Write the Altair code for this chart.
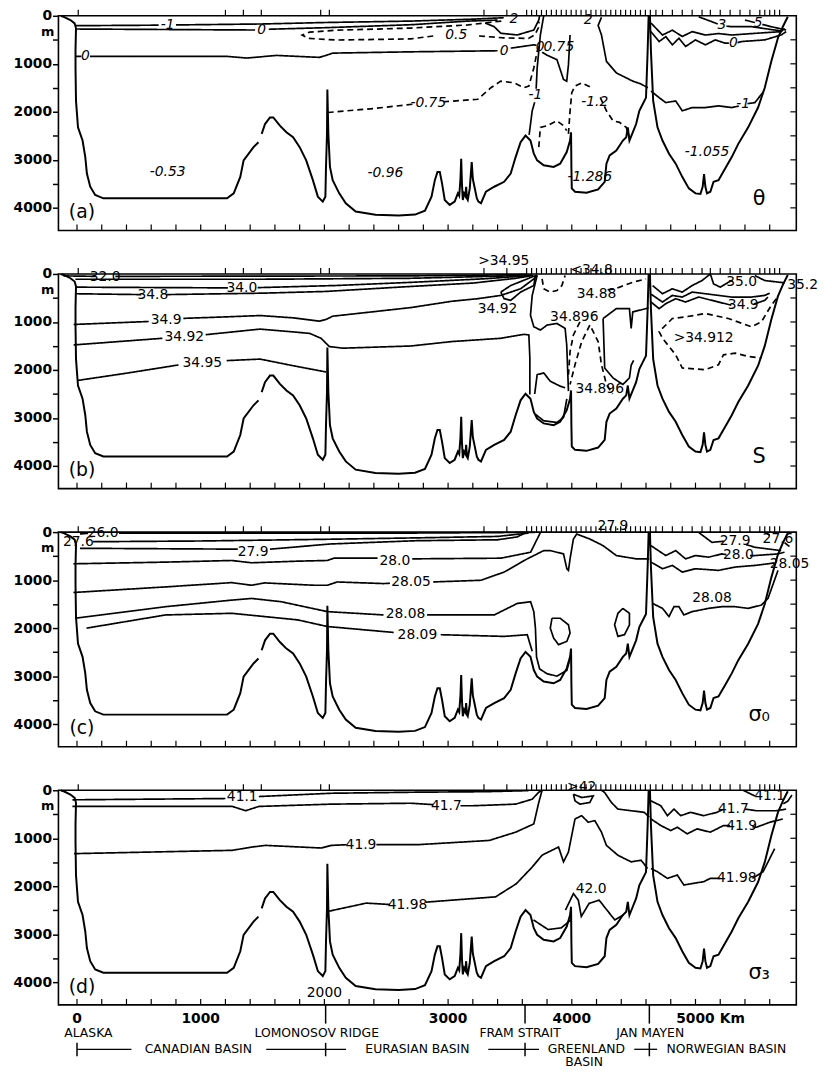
import altair as alt
import pandas as pd

X_DOMAIN = [-150, 5815]
Y_DOMAIN = [0, 4470]
W, H = 746, 217
FONT = "DejaVu Sans"

# ---------------- sea floor (km, m) ----------------
SEA_1 = [(-130, 5), (-107, 21), (-53, 89), (-19, 158), (-8, 261), (-12, 700), (-12, 1086), (-8, 1773),
         (8, 2323), (45, 2598), (67, 2942), (80, 3285), (107, 3560), (147, 3732), (213, 3801), (1213, 3801),
         (1267, 3698), (1320, 3354), (1347, 3010), (1427, 2735), (1467, 2632)]
SEA_2 = [(1493, 2460), (1520, 2254), (1560, 2117), (1587, 2117), (1640, 2289), (1693, 2426), (1747, 2529),
         (1800, 2735), (1853, 3010), (1907, 3423), (1947, 3766), (1987, 3869), (2008, 3766), (2013, 3148),
         (2021, 2460), (2024, 1533), (2032, 2460), (2045, 3148), (2067, 3423), (2120, 3698), (2173, 3904),
         (2253, 4076), (2413, 4144), (2600, 4160), (2733, 4140), (2813, 4060), (2866, 3766), (2893, 3423),
         (2914, 3251), (2933, 3251), (2951, 3491), (2973, 3835), (3013, 3938), (3053, 3869), (3079, 3698),
         (3090, 3750), (3100, 3400), (3106, 2976), (3112, 3500), (3119, 3835), (3130, 3700), (3140, 3750),
         (3146, 3560), (3152, 3800), (3159, 3835), (3175, 3600), (3191, 3045), (3200, 3400), (3213, 3560),
         (3232, 3800), (3245, 3869), (3266, 3904), (3306, 3663), (3373, 3560), (3453, 3457), (3506, 3285),
         (3546, 2942), (3586, 2632), (3626, 2495), (3666, 2598), (3693, 2873), (3720, 3010), (3773, 3113),
         (3853, 3148), (3906, 3079), (3959, 2838), (3986, 2598), (3994, 2426), (3997, 3182), (4000, 3594),
         (4026, 3663), (4119, 3684), (4213, 3615), (4266, 3457), (4280, 3079), (4306, 2907), (4360, 2804),
         (4413, 2598), (4440, 2529), (4453, 2323), (4466, 2598), (4493, 2426), (4520, 2254), (4546, 1979),
         (4573, 1842), (4600, 1704), (4613, 742), (4621, 21), (4632, 21), (4640, 742), (4658, 1773),
         (4693, 2323), (4733, 2598), (4786, 2873), (4840, 3079), (4893, 3354), (4946, 3594), (5000, 3698),
         (5040, 3711), (5058, 3560), (5069, 3299), (5080, 3560), (5093, 3698), (5120, 3663), (5146, 3457),
         (5186, 3423), (5240, 3182), (5293, 2942), (5346, 2667), (5426, 2323), (5506, 1911), (5560, 1498),
         (5613, 948), (5666, 467), (5706, 227), (5746, 21)]

STATIONS = [10, 1200, 1345, 1490, 1970, 2040, 3290, 3475, 3635, 3675, 3715, 3755, 3795, 3835, 3875, 3915,
            3955, 3995, 4035, 4075, 4115, 4155, 4195, 4235, 4275, 4315, 4355, 4395, 4435, 4475, 4515, 4555,
            4595, 4635, 4680, 4733, 4813, 4893, 4973, 5053, 5120, 5200, 5280, 5360, 5440, 5520, 5560, 5600,
            5640, 5680]
BOTTOM_TICKS = [0, 200, 400, 600, 800, 1000, 1200, 1400, 1600, 1800, 2000, 2200, 2400, 2600, 2800, 3000,
                3200, 3400, 3600, 3800, 4000, 4200, 4400, 4600, 4800, 5000, 5200, 5400, 5600]
DEPTH_TICKS = [0, 500, 1000, 1500, 2000, 2500, 3000, 3500, 4000]

# ---------------- panel (a) theta ----------------
A_M1A = [(-13, 206), (660, 195)]
A_M1B = [(800, 190), (1500, 170), (2000, 140), (2700, 110), (3200, 70), (3450, 40)]
A_0UA = [(-13, 275), (1440, 296)]
A_0UB = [(1550, 280), (2013, 247), (2707, 185), (3160, 110), (3400, 90)]
A_0A = [(-13, 845), (35, 845)]
A_0B = [(105, 845), (1213, 845), (1373, 880), (1613, 825), (1960, 866), (2013, 825), (2067, 777),
        (2700, 750), (3400, 728)]
A_0C = [(3506, 674), (3693, 605), (3715, 615)]
A_0D = [(3760, 760), (3800, 820), (3880, 914), (3933, 1326), (3959, 1361), (3973, 1017), (3986, 400)]
A_2 = [(3300, 150), (3373, 227), (3426, 364), (3560, 399), (3693, 296), (3733, 89), (3740, 0)]
A_M1C = [(3773, 0), (3746, 399), (3720, 1086), (3712, 1520)]
A_M1D = [(3700, 1800), (3680, 1979), (3655, 2480)]
A_M1E = [(4240, 30), (4213, 200), (4240, 400), (4280, 948), (4360, 1189), (4493, 1361), (4560, 1420),
         (4615, 1500)]
A_M1F = [(4640, 1567), (4706, 1704), (4760, 1808), (4840, 1773), (4893, 1979), (4973, 1911), (5080, 1911),
         (5186, 1876), (5293, 1911), (5350, 1880)]
A_M1G = [(5420, 1830), (5480, 1808), (5550, 1580)]
A_0N = [(4640, 330), (4706, 536), (4760, 433), (4813, 605), (4866, 467), (4920, 639), (5000, 502),
        (5080, 605), (5160, 502), (5240, 570), (5270, 570)]
A_0N2 = [(5340, 560), (5373, 536), (5560, 502), (5693, 399), (5733, 330)]
A_1N = [(4640, 150), (4733, 400), (4813, 300), (4893, 430), (4973, 330), (5080, 400), (5186, 370),
        (5293, 400), (5453, 370), (5693, 330), (5720, 260)]
A_3 = [(5026, 21), (5133, 124), (5180, 170)]
A_3B = [(5250, 215), (5293, 227), (5453, 227), (5693, 316)]
A_5 = [(5400, 89), (5480, 140)]
A_5B = [(5540, 180), (5613, 227), (5733, 296)]
A_05A = [(3430, 110), (3160, 190), (2700, 255), (2100, 300), (1880, 340), (1820, 400), (1870, 470),
         (2100, 505), (2700, 480), (2880, 420)]
A_05B = [(3250, 420), (3450, 460), (3650, 470), (3700, 400), (3730, 250), (3735, 120)]
A_M075A = [(2027, 2014), (2400, 1930), (2720, 1840)]
A_M075B = [(2960, 1790), (3240, 1739), (3346, 1498), (3426, 1361), (3533, 1395), (3613, 1498), (3653, 1464),
           (3693, 1086), (3720, 742), (3740, 600)]
A_M12A = [(3973, 2460), (3986, 1979), (4000, 1601), (4026, 1464), (4080, 1395), (4146, 1480)]
A_M12B = [(4230, 1700), (4280, 1979), (4333, 2186), (4386, 2220), (4440, 2323), (4466, 2529)]
A_M12C = [(3733, 2735), (3746, 2323), (3800, 2289), (3880, 2186), (3933, 2289), (3959, 2392)]
A_SOLID = [A_M1A, A_M1B, A_0UA, A_0UB, A_0A, A_0B, A_0C, A_0D, A_2, A_M1C, A_M1D, A_M1E, A_M1F, A_M1G,
           A_0N, A_0N2, A_1N, A_3, A_3B, A_5, A_5B]
A_DASH = [A_05A, A_05B, A_M075A, A_M075B, A_M12A, A_M12B, A_M12C]
A_LABELS = [("-1", 733, 190), ("0", 1493, 305), ("0.5", 3066, 400), ("0", 67, 845), ("0", 3453, 742),
            ("0", 3745, 660), ("0.75", 3895, 660), ("-0.75", 2840, 1808), ("-1", 3706, 1660),
            ("-1.2", 4186, 1800), ("-1", 5386, 1842), ("0", 5306, 570), ("3", 5213, 192), ("5", 5506, 158),
            ("2", 3533, 70), ("2", 4133, 90), ("-0.53", 733, 3251), ("-0.96", 2493, 3285),
            ("-1.055", 5093, 2838), ("-1.286", 4146, 3354)]

# ---------------- panel (b) salinity ----------------
B_320A = [(-110, 40), (150, 50)]
B_320B = [(310, 50), (2700, 40), (3600, 15)]
B_LINE2 = [(-13, 110), (1500, 110), (2700, 90), (3500, 40), (3640, 10)]
B_340A = [(-13, 275), (1220, 290)]
B_340B = [(1460, 285), (2100, 240), (2700, 175), (3300, 100), (3600, 45), (3680, 20)]
B_348A = [(-13, 412), (520, 430)]
B_348B = [(720, 430), (1500, 400), (2013, 364), (2700, 260), (3200, 190), (3550, 90), (3690, 30)]
B_349A = [(-27, 1052), (580, 990)]
B_349B = [(860, 925), (1213, 893), (1480, 866), (1747, 914), (1960, 983), (2013, 948), (2067, 880),
          (2700, 700), (3026, 570), (3240, 515), (3426, 447), (3586, 309), (3693, 103), (3720, 20)]
B_3492A = [(-27, 1478), (690, 1340)]
B_3492B = [(1040, 1265), (1480, 1148), (1880, 1237), (1973, 1340), (2040, 1512), (2147, 1546), (2700, 1500),
           (3026, 1409), (3426, 1340), (3613, 1258), (3653, 1271), (3661, 1753), (3661, 2508)]
B_3495A = [(0, 2220), (413, 2062), (820, 1895)]
B_3495B = [(1210, 1805), (1480, 1773), (1747, 1911), (2013, 2041)]
B_LOOP = [(3426, 378), (3506, 241), (3640, 103), (3706, 34), (3693, 241), (3586, 378), (3506, 550),
          (3453, 515), (3426, 378)]
B_G1 = [(3720, 30), (3680, 447), (3666, 859), (3693, 1100), (3746, 1168), (3800, 1065), (3880, 1031),
        (3946, 1134), (3959, 1478), (3973, 2440)]
B_G2 = [(4253, 928), (4360, 722), (4466, 722), (4480, 1134), (4493, 790), (4600, 722), (4620, 700)]
B_G3 = [(4253, 928), (4266, 1959), (4333, 2165), (4413, 2302), (4466, 2165), (4480, 1900), (4500, 1800)]
B_LOW1 = [(3700, 2500), (3720, 2096), (3773, 2062), (3826, 2234), (3906, 2337), (3946, 2371)]
B_LOW2 = [(3706, 2921), (3773, 3058), (3880, 3093), (3933, 2990), (3960, 2600)]
B_350 = [(4653, 241), (4733, 412), (4813, 309), (4893, 378), (4973, 241), (5053, 137), (5120, 0),
         (5146, 206), (5200, 275), (5266, 172), (5300, 130)]
B_352 = [(5480, 34), (5560, 137), (5720, 185)]
B_MID = [(4640, 420), (4733, 584), (4813, 447), (4893, 481), (4973, 378), (5080, 412), (5186, 447),
         (5293, 481), (5453, 481), (5560, 447), (5600, 400)]
B_349N = [(4640, 584), (4706, 722), (4760, 619), (4840, 515), (4920, 584), (5026, 481), (5133, 550),
          (5240, 619), (5290, 650)]
B_349N2 = [(5470, 630), (5560, 550), (5586, 481)]
B_88 = [(3760, 103), (3773, 309), (3826, 378), (3880, 344), (3920, 241), (3946, 34)]
B_88B = [(4290, 330), (4360, 300), (4493, 172), (4600, 103)]
B_TENT1 = [(4066, 997), (4013, 1271), (3986, 1615), (3973, 2096)]
B_TENT2 = [(4146, 1065), (4080, 1409), (4026, 1890), (3986, 2302)]
B_TENT3 = [(4160, 1134), (4213, 1409), (4240, 1890), (4280, 2302), (4330, 2500)]
B_912 = [(5653, 515), (5613, 653), (5533, 997), (5453, 1100), (5266, 928), (5080, 825), (4920, 893),
         (4813, 928), (4706, 1203), (4733, 1340), (4840, 1684), (4893, 1959), (5080, 1993), (5186, 1890),
         (5226, 1684), (5320, 1649), (5426, 1718), (5533, 1753)]
B_SOLID = [B_320A, B_320B, B_LINE2, B_340A, B_340B, B_348A, B_348B, B_349A, B_349B, B_3492A, B_3492B,
           B_3495A, B_3495B, B_LOOP, B_G1, B_G2, B_G3, B_LOW1, B_LOW2, B_350, B_352, B_MID, B_349N, B_349N2]
B_DASH = [B_88, B_88B, B_TENT1, B_TENT2, B_TENT3, B_912]
B_LABELS = [("32.0", 227, 60), ("34.0", 1333, 296), ("34.8", 613, 433), ("34.9", 720, 962),
            ("34.92", 867, 1306), ("34.95", 1013, 1856), ("34.92", 3400, 722), ("34.88", 4200, 412),
            ("34.896", 4020, 893), ("34.896", 4226, 2405), ("35.0", 5373, 172), ("35.2", 5866, 240),
            ("34.9", 5386, 653), (">34.912", 5066, 1340), (">34.95", 3450, -270), ("<34.8", 4160, -80)]

# ---------------- panel (c) sigma-0 ----------------
C_260A = [(24, 40), (90, 25)]
C_260B = [(340, 20), (2700, 20), (3700, 5)]
C_276 = [(130, 200), (1000, 185), (2000, 150), (2744, 120), (3400, 90), (3650, 20)]
C_279A = [(24, 337), (1300, 355)]
C_279B = [(1560, 355), (2051, 247), (2744, 179), (3400, 160), (3560, 100), (3620, 20)]
C_280A = [(-29, 660), (717, 625), (1251, 591), (1411, 639), (1784, 605), (2024, 591), (2077, 543), (2430, 543)]
C_280B = [(2710, 557), (3427, 543), (3667, 419), (3746, 10)]
C_2805A = [(-29, 1258), (717, 1141), (1251, 1052), (1411, 1107), (1517, 1058), (1917, 1107), (2024, 1107),
           (2104, 1038), (2478, 1072), (2530, 1065)]
C_2805B = [(2880, 1038), (3266, 1003), (3453, 832), (3640, 557), (3720, 454), (3773, 385), (3826, 385),
           (3933, 454), (3960, 763), (3973, 797), (3986, 557), (4013, 144), (4040, 41), (4146, 144),
           (4253, 282), (4360, 488), (4520, 557), (4626, 557)]
C_2808A = [(-16, 1794), (717, 1553), (1251, 1416), (1411, 1381), (1651, 1450), (2024, 1656), (2478, 1725)]
C_2808B = [(2830, 1725), (3373, 1725), (3560, 1485), (3667, 1450), (3693, 1656), (3706, 2000), (3715, 2600),
           (3740, 2850), (3800, 2950), (3880, 3000), (3960, 2880), (3990, 2600)]
C_2809A = [(77, 2000), (717, 1725), (1251, 1691), (1784, 1828), (2024, 1966), (2560, 2090)]
C_2809B = [(2940, 2137), (3453, 2172), (3640, 2137), (3680, 2481)]
C_LOOP1 = [(3840, 1794), (3906, 1794), (3973, 1931), (3986, 2103), (3960, 2275), (3893, 2344), (3853, 2206),
           (3826, 2000), (3840, 1794)]
C_LOOP2 = [(4413, 1588), (4466, 1691), (4466, 1931), (4426, 2137), (4373, 2172), (4346, 1931), (4373, 1691),
           (4413, 1588)]
C_279N = [(5026, 7), (5133, 213), (5230, 190)]
C_279N2 = [(5410, 260), (5480, 316), (5693, 385)]
C_276N = [(5560, 7), (5600, 60)]
C_276N2 = [(5720, 220), (5760, 300)]
C_280N = [(4640, 282), (4760, 488), (4840, 385), (4920, 557), (5000, 488), (5106, 522), (5213, 454),
          (5250, 470)]
C_280N2 = [(5440, 488), (5480, 488), (5667, 454), (5720, 419)]
C_2805N = [(4640, 625), (4733, 763), (4813, 694), (4893, 832), (5000, 763), (5186, 797), (5320, 728),
           (5480, 694), (5586, 660), (5640, 640)]
C_2808N = [(4653, 1485), (4733, 1588), (4786, 1759), (4826, 1553), (4866, 1553), (4906, 1725), (4973, 1656),
           (5106, 1588), (5213, 1553), (5320, 1553), (5426, 1588), (5533, 1519), (5586, 1381), (5667, 797)]
C_SOLID = [C_260A, C_260B, C_276, C_279A, C_279B, C_280A, C_280B, C_2805A, C_2805B, C_2808A, C_2808B,
           C_2809A, C_2809B, C_LOOP1, C_LOOP2, C_279N, C_279N2, C_276N, C_276N2, C_280N, C_280N2, C_2805N,
           C_2808N]
C_LABELS = [("26.0", 211, 21), ("27.6", 11, 213), ("27.9", 1424, 405), ("28.0", 2570, 600),
            ("28.05", 2700, 1050), ("28.08", 2656, 1711), ("28.09", 2752, 2137), ("27.9", 4333, -120),
            ("27.9", 5320, 179), ("27.6", 5667, 144), ("28.0", 5346, 488), ("28.05", 5760, 660),
            ("28.08", 5133, 1368)]

# ---------------- panel (d) sigma-3 ----------------
D_411A = [(-37, 199), (1200, 172)]
D_411B = [(1470, 131), (2056, 62), (2750, 40), (3300, 30), (3650, 8)]
D_417A = [(-37, 337), (1256, 337), (1363, 426), (1470, 337), (2056, 289), (2700, 270), (2880, 300)]
D_417B = [(3100, 323), (3200, 323), (3546, 289), (3680, 186), (3733, 40), (3760, 0)]
D_419A = [(-24, 1320), (1256, 1251), (1416, 1182), (1523, 1148), (1976, 1203), (2056, 1148), (2180, 1134)]
D_419B = [(2420, 1134), (2750, 1134), (3333, 1045), (3546, 873), (3693, 701), (3733, 254), (3760, 0)]
D_4198A = [(2020, 2528), (2339, 2350), (2530, 2380)]
D_4198B = [(2820, 2330), (3384, 2220), (3551, 1948), (3677, 1608), (3761, 1350), (3893, 1182), (3933, 1491),
           (3973, 1285), (4026, 598), (4080, 529), (4133, 667), (4186, 632), (4240, 873), (4280, 1148),
           (4373, 1354), (4480, 1491), (4560, 1457), (4613, 1629)]
D_4198C = [(4640, 1629), (4693, 1698), (4773, 1835), (4853, 1766), (4906, 1973), (4986, 1938), (5066, 1904),
           (5120, 1835), (5200, 1835)]
D_4198D = [(5460, 1835), (5546, 1698), (5600, 1423), (5640, 1216)]
D_417C = [(4640, 220), (4720, 323), (4773, 529), (4826, 392), (4880, 529), (4960, 460), (5066, 529),
          (5173, 460), (5220, 400)]
D_417D = [(5400, 392), (5493, 426), (5653, 426), (5733, 392)]
D_419C = [(4640, 598), (4720, 735), (4800, 838), (4853, 770), (4933, 907), (5013, 804), (5120, 873),
          (5226, 735), (5280, 735)]
D_419D = [(5460, 760), (5493, 770), (5600, 667), (5706, 598)]
D_411C = [(5386, 0), (5480, 120)]
D_411D = [(5710, 280), (5745, 230), (5780, 100)]
D_419E = [(4240, 0), (4266, 48), (4320, 254), (4373, 392), (4480, 426), (4586, 460), (4626, 560)]
D_42LOOP = [(4013, 82), (4080, 151), (4173, 117), (4146, 254), (4066, 289), (4026, 220), (4013, 82)]
D_420 = [(3949, 2495), (4013, 2152), (4053, 2289), (4077, 2629), (4140, 2356), (4221, 2289), (4284, 2495),
         (4348, 2701), (4420, 2591)]
D_G1 = [(3690, 2700), (3808, 2900), (3915, 2866), (3995, 2694)]
D_SOLID = [D_411A, D_411B, D_417A, D_417B, D_419A, D_419B, D_4198A, D_4198B, D_4198C, D_4198D, D_417C,
           D_417D, D_419C, D_419D, D_411C, D_411D, D_419E, D_42LOOP, D_420, D_G1]
D_LABELS = [("41.1", 1336, 151), ("41.7", 2986, 323), ("41.9", 2296, 1134), ("41.98", 2672, 2392),
            ("42.0", 4157, 2060), (">42", 4080, -60), ("41.7", 5306, 392), ("41.1", 5600, 117),
            ("41.9", 5373, 735), ("41.98", 5333, 1835), ("2000", 2000, 4230)]

# ---------------- bottom annotation ----------------
KM_LABELS = [("0", 0), ("1000", 1000), ("3000", 3000), ("4000", 4000), ("5000", 5000)]
PLACE_LABELS = [("ALASKA", 92), ("LOMONOSOV RIDGE", 1938), ("FRAM STRAIT", 3582), ("JAN MAYEN", 4634)]
BASIN_LABELS = [("CANADIAN BASIN", 981), ("EURASIAN BASIN", 2752), ("GREENLAND", 4118),
                ("NORWEGIAN BASIN", 5250)]
BASIN_LINES = [(0, 440), (1530, 2175), (3325, 3735), (4505, 4690)]
BASIN_BARS = [0, 2010, 3622, 4627]
LONG_TICKS = [2010, 3622, 4627]

XS = alt.Scale(domain=X_DOMAIN, nice=False, zero=False)
YS = alt.Scale(domain=Y_DOMAIN, reverse=True, nice=False, zero=False)
YAX = alt.Axis(values=DEPTH_TICKS, labelExpr="datum.value % 1000 == 0 ? datum.label : ''", format="d",
               tickSize=6, tickWidth=1.5, tickColor="black", domain=False, grid=False, title=None,
               labelFont=FONT, labelFontSize=14, labelFontWeight="bold", labelColor="black", labelPadding=1)


def seg_frame(groups):
    rows = []
    for kind, segs in groups:
        for k, pts in enumerate(segs):
            for i, (x, y) in enumerate(pts):
                rows.append({"x": x, "y": y, "seg": f"{kind}{k}", "kind": kind, "i": i})
    return pd.DataFrame(rows)


def xe():
    return alt.X("x:Q", scale=XS, axis=None)


def ye():
    return alt.Y("y:Q", scale=YS, axis=YAX)


def panel(solid, dashed, labels, italic, tag, symbol, extra=()):
    sea = seg_frame([("sea", [SEA_1, SEA_2])])
    cont = seg_frame([("solid", solid), ("dash", dashed)])
    lab = pd.DataFrame(labels, columns=["t", "x", "y"])
    layers = [
        alt.Chart(sea).mark_line(color="black", strokeWidth=2).encode(
            x=xe(), y=ye(), detail="seg:N", order="i:Q"),
        alt.Chart(cont).mark_line(color="black", strokeWidth=1.7).encode(
            x=xe(), y=ye(), detail="seg:N", order="i:Q",
            strokeDash=alt.StrokeDash("kind:N", scale=alt.Scale(domain=["solid", "dash"], range=[[1, 0], [6, 4]]),
                                      legend=None)),
        alt.Chart(lab).mark_text(font=FONT, fontSize=14, fontStyle="italic" if italic else "normal",
                                 color="black").encode(x=xe(), y=ye(), text="t:N"),
        alt.Chart(pd.DataFrame({"x": STATIONS})).mark_rule(color="black", strokeWidth=1.2).encode(
            x=xe(), y=alt.value(0), y2=alt.value(-6)),
        alt.Chart(pd.DataFrame({"x": BOTTOM_TICKS})).mark_rule(color="black", strokeWidth=1.2).encode(
            x=xe(), y=alt.value(H), y2=alt.value(H - 6)),
        alt.Chart(pd.DataFrame({"y": DEPTH_TICKS[1:]})).mark_rule(color="black", strokeWidth=1.2).encode(
            y=ye(), x=alt.value(W), x2=alt.value(W - 6)),
        alt.Chart(pd.DataFrame({"t": ["m"], "y": [330]})).mark_text(
            font=FONT, fontSize=13, fontWeight="bold", color="black").encode(
            x=alt.value(-11), y=ye(), text="t:N"),
        alt.Chart(pd.DataFrame({"t": [tag], "x": [40], "y": [4090]})).mark_text(
            font=FONT, fontSize=19, color="black").encode(x=xe(), y=ye(), text="t:N"),
        alt.Chart(pd.DataFrame({"t": [symbol], "x": [5515], "y": [3810]})).mark_text(
            font=FONT, fontSize=21, color="black").encode(x=xe(), y=ye(), text="t:N"),
    ]
    layers.extend(extra)
    return alt.layer(*layers).properties(width=W, height=H)


# bottom annotation layers for panel (d)
km_df = pd.DataFrame(KM_LABELS, columns=["t", "x"]).assign(y=4757)
place_df = pd.DataFrame(PLACE_LABELS, columns=["t", "x"]).assign(y=5066)
basin_df = pd.DataFrame(BASIN_LABELS, columns=["t", "x"]).assign(y=5395)
basin2_df = pd.DataFrame({"t": ["BASIN"], "x": [4100], "y": [5670]})
bl_df = pd.DataFrame(BASIN_LINES, columns=["x", "x2"]).assign(y=5395)
bar_df = pd.DataFrame({"x": BASIN_BARS, "y": 5260, "y2": 5540})
lt_df = pd.DataFrame({"x": LONG_TICKS, "y": 4470, "y2": 4860})

txt = dict(font=FONT, fontSize=12.5, color="black")
extra_d = [
    alt.Chart(km_df).mark_text(font=FONT, fontSize=14, fontWeight="bold", color="black").encode(
        x=xe(), y=ye(), text="t:N"),
    alt.Chart(pd.DataFrame({"t": ["Km"], "x": [5297], "y": [4757]})).mark_text(
        font=FONT, fontSize=14, fontWeight="bold", color="black").encode(x=xe(), y=ye(), text="t:N"),
    alt.Chart(place_df).mark_text(**txt).encode(x=xe(), y=ye(), text="t:N"),
    alt.Chart(basin_df).mark_text(**txt).encode(x=xe(), y=ye(), text="t:N"),
    alt.Chart(basin2_df).mark_text(**txt).encode(x=xe(), y=ye(), text="t:N"),
    alt.Chart(bl_df).mark_rule(color="black", strokeWidth=1.3).encode(x=xe(), x2="x2:Q", y=ye()),
    alt.Chart(bar_df).mark_rule(color="black", strokeWidth=1.5).encode(x=xe(), y=ye(), y2="y2:Q"),
    alt.Chart(lt_df).mark_rule(color="black", strokeWidth=1.5).encode(x=xe(), y=ye(), y2="y2:Q"),
]

pa = panel(A_SOLID, A_DASH, A_LABELS, True, "(a)", "θ")
pb = panel(B_SOLID, B_DASH, B_LABELS, False, "(b)", "S")
pc = panel(C_SOLID, [], C_LABELS, False, "(c)", "σ₀")
pd_ = panel(D_SOLID, [], D_LABELS, False, "(d)", "σ₃", extra_d)

chart = alt.vconcat(pa, pb, pc, pd_, spacing=44, bounds="flush").properties(
    padding={"left": 4, "top": -6, "right": 5, "bottom": 0}, background="white"
).configure_view(stroke="black", strokeWidth=1.6)

chart.save("out.html", embed_options={"renderer": "svg", "actions": False})
